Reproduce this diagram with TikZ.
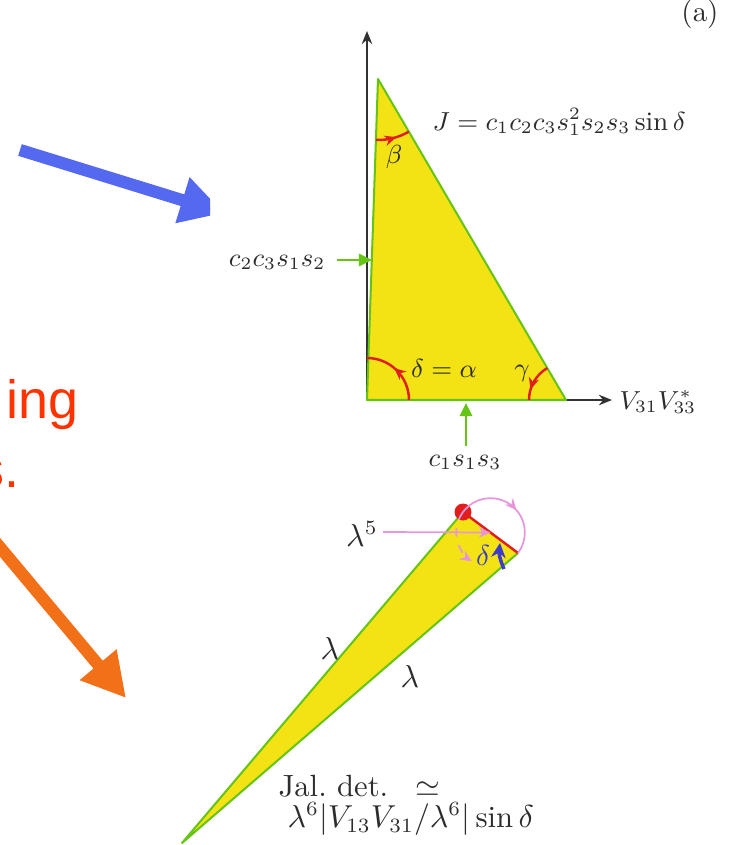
\documentclass[tikz,border=0pt]{standalone}
\usepackage{fontspec}
\newfontfamily\arialfont{Liberation Sans}
\usetikzlibrary{arrows.meta,decorations.markings}
\definecolor{triyellow}{RGB}{243,227,20}
\definecolor{trigreen}{RGB}{102,196,20}
\definecolor{arcred}{RGB}{225,30,30}
\definecolor{arcpink}{RGB}{232,150,220}
\definecolor{deltablue}{RGB}{60,60,200}
\definecolor{bigblue}{RGB}{84,104,240}
\definecolor{bigorange}{RGB}{242,112,24}
\definecolor{textred}{RGB}{255,51,0}
\definecolor{axisgray}{RGB}{50,50,50}
\definecolor{mathgray}{RGB}{45,45,45}
\begin{document}
\begin{tikzpicture}[x=0.345pt,y=-0.345pt,
  axis/.style={draw=axisgray,line width=0.8pt,-{Stealth[length=4.5pt,width=3.6pt]}},
  triedge/.style={draw=trigreen,line width=0.7pt},
  trifill/.style={fill=triyellow},
  greenarrow/.style={draw=trigreen,line width=0.85pt,-{Triangle[length=4.5pt,width=4.2pt]}},
  redarc/.style={draw=arcred,line width=0.85pt},
  pinkline/.style={draw=arcpink,line width=0.6pt},
  midarrow/.style 2 args={postaction={decorate,decoration={markings,
      mark=at position #1 with {\arrow[#2]{Stealth[length=4pt,width=3.6pt]}}}}},
  lab/.style={inner sep=0pt,text=mathgray,font=\fontsize{9.2}{11}\selectfont},
  lowlab/.style={inner sep=0pt,text=mathgray,font=\fontsize{10.6}{13}\selectfont},
  bigarrow/.style={line width=4.2pt,-{Triangle[length=15pt,width=15.5pt]}},
]
\useasboundingbox (0,0) rectangle (731,845);

% ---------- big arrows and red text ----------
\begin{scope}
  \clip (0,0) rectangle (210,845);
  \coordinate (bA) at (20,150);
  \coordinate (bB) at (224,213);
  \draw[bigarrow,draw=bigblue,fill=bigblue] (bA) -- (bB);
\end{scope}
\coordinate (oA) at (-12,533);
\coordinate (oB) at (126,698);
\draw[bigarrow,draw=bigorange,fill=bigorange] (oA) -- (oB);
\node[inner sep=0pt,anchor=base east,text=textred,font=\arialfont\fontsize{18.6}{22}\selectfont] (ing) at (79,418) {ing};
\node[inner sep=0pt,anchor=base east,text=textred,font=\arialfont\fontsize{18.6}{22}\selectfont] (sdot) at (20,487) {s.};

% ---------- (a) ----------
\node[lab,anchor=base,font=\fontsize{10}{12}\selectfont] (alab) at (700,21) {(a)};

% ---------- top triangle ----------
\coordinate (O) at (367,400);
\coordinate (T) at (378,79);
\coordinate (R) at (566,400);
\coordinate (Yt) at (367,31);
\coordinate (Xt) at (612,400);
\draw[axis] (O) -- (Yt);
\draw[axis] (O) -- (Xt);
\fill[trifill] (O) -- (T) -- (R) -- cycle;
\draw[triedge,line join=round] (O) -- (T) -- (R) -- cycle;

% angle arcs
\draw[redarc,midarrow={0.55}{}] ([shift={(0:42)}]O) arc[start angle=0,end angle=-90,radius=42];
\draw[redarc,midarrow={0.72}{}] ([shift={(-120.4:37)}]R) arc[start angle=-120.4,end angle=-180,radius=37];
\draw[redarc,midarrow={0.6}{}] ([shift={(92:61)}]T) arc[start angle=92,end angle=59.6,radius=61];

% labels
\node[lab,anchor=west] (J) at (432,122) {$J=c_1c_2c_3s_1^2s_2s_3\sin\delta$};
\node[lab] (beta) at (394,157) {$\beta$};
\node[lab] (dalpha) at (444,368) {$\delta=\alpha$};
\node[lab] (gamma) at (522,373) {$\gamma$};
\node[lab,anchor=west] (V) at (619,402) {$V_{31}V_{33}^*$};
\node[lab,anchor=east] (c2) at (326,262) {$c_2c_3s_1s_2$};
\node[lab] (c1) at (465,462) {$c_1s_1s_3$};
\coordinate (c2tail) at (337,260);
\coordinate (c2tip) at (372,260);
\coordinate (c1tail) at (466,446);
\coordinate (c1tip) at (466,403);
\draw[greenarrow] (c2tail) -- (c2tip);
\draw[greenarrow] (c1tail) -- (c1tip);

% ---------- lower triangle ----------
\coordinate (P) at (182,843);
\coordinate (A) at (463,512);
\coordinate (B) at (518,553);
\coordinate (M) at (490.5,532.5);
\fill[trifill] (P) -- (A) -- (B) -- cycle;
\draw[triedge,line join=round] (B) -- (P) -- (A);
\draw[draw=arcred,line width=0.85pt] (A) -- (B);
\fill[arcred] (A) circle[radius=8.5];

% pink arcs
\draw[pinkline,midarrow={0.57}{arcpink}] ([shift={(-143.3:34.3)}]M) arc[start angle=-143.3,end angle=36.7,radius=34.3];
\draw[pinkline,dashed,-{Stealth[length=4pt,width=3.6pt]}] ([shift={(-143.3:34.3)}]M) arc[start angle=-143.3,end angle=-237,radius=34.3];
\node[lowlab] (lam5) at (362,534) {$\lambda^5$};
\coordinate (l5tail) at (383,532);
\draw[pinkline,-{Stealth[length=4pt,width=3.6pt]}] (l5tail) -- (M);

% blue delta
\node[lab,text=deltablue,font=\fontsize{10}{12}\selectfont] (bdelta) at (483,555) {$\delta$};
\coordinate (bl1) at (504,569);
\coordinate (bl2) at (500,543);
\draw[draw=deltablue,line width=1.2pt,-{Stealth[length=5pt,width=5pt]}] (bl1) to[bend left=15] (bl2);

% lambda labels
\node[lowlab] (l1) at (330,648) {$\lambda$};
\node[lowlab] (l2) at (410,676) {$\lambda$};
\node[lowlab,anchor=west] (jal1) at (278,786) {Jal.\ det.\hspace{0.9em}$\simeq$};
\node[lowlab,anchor=west] (jal2) at (287,819) {$\lambda^6|V_{13}V_{31}/\lambda^6|\sin\delta$};
\end{tikzpicture}
\end{document}
